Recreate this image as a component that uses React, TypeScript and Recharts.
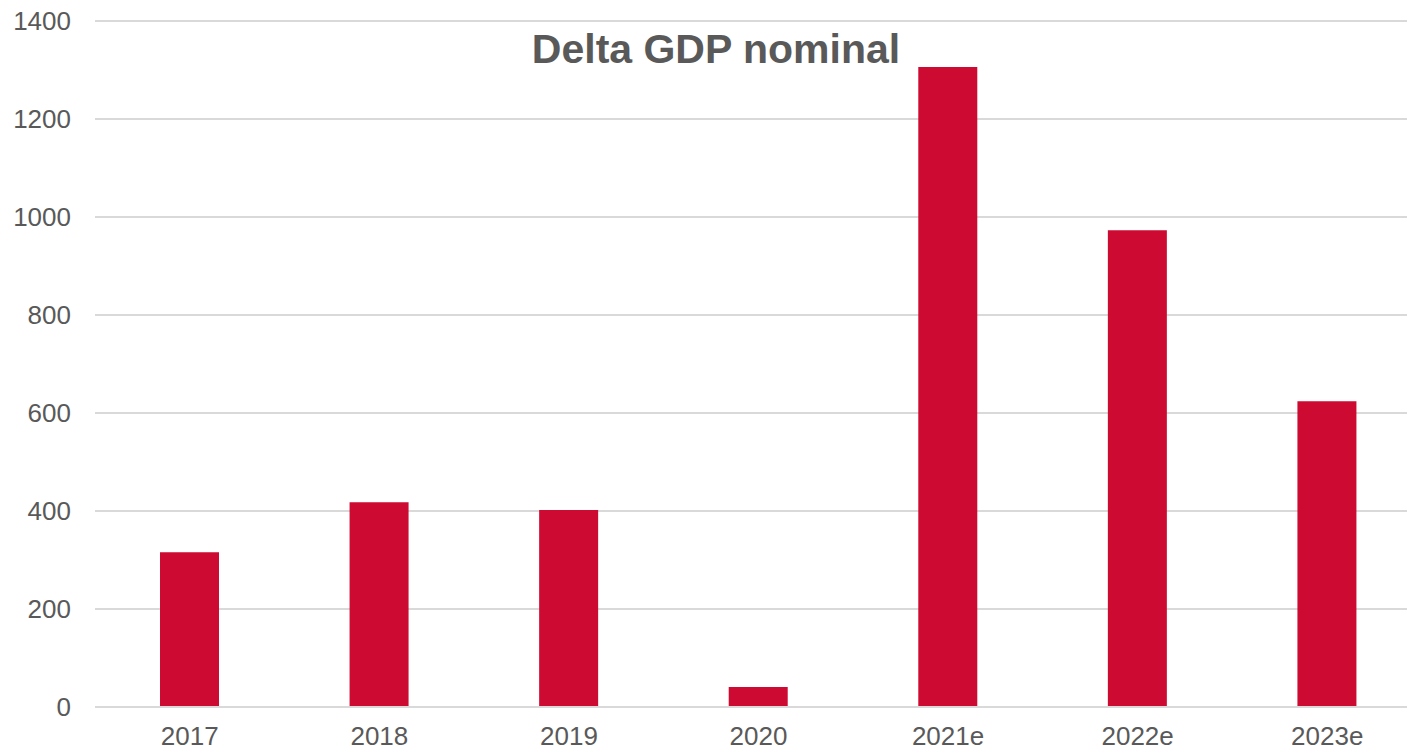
import React from "react";
import { BarChart, Bar, XAxis, YAxis, CartesianGrid } from "recharts";

const categories = ["2017", "2018", "2019", "2020", "2021e", "2022e", "2023e"];
const deltaGdp = [316, 418, 402, 41, 1306, 973, 624];
const yTicks = [0, 200, 400, 600, 800, 1000, 1200, 1400];

const data = categories.map((c, i) => ({ year: c, value: deltaGdp[i] }));

const FONT = '"Liberation Sans", Arial, sans-serif';
const GRAY = "#595959";

export default function App() {
  return (
    <div
      style={{
        position: "absolute",
        left: 0,
        top: 0,
        width: 1407,
        height: 751,
        overflow: "hidden",
        background: "#ffffff",
        fontFamily: FONT,
      }}
    >
      <BarChart
        width={1422}
        height={751}
        data={data}
        margin={{ top: 21, right: 0, bottom: 0, left: 0 }}
        barSize={59}
      >
        <CartesianGrid vertical={false} stroke="#d9d9d9" strokeWidth={1.8} />
        <XAxis
          dataKey="year"
          height={44}
          tickLine={false}
          tickSize={0}
          tickMargin={20}
          axisLine={{ stroke: "#d9d9d9", strokeWidth: 2 }}
          tick={{ fill: GRAY, fontSize: 26, fontFamily: FONT }}
          interval={0}
        />
        <YAxis
          width={95}
          domain={[0, 1400]}
          ticks={yTicks}
          tickLine={false}
          tickSize={0}
          tickMargin={24}
          axisLine={false}
          tick={{ fill: GRAY, fontSize: 26, fontFamily: FONT }}
          interval={0}
        />
        <Bar dataKey="value" fill="#CD0A31" isAnimationActive={false} />
      </BarChart>
      <div
        style={{
          position: "absolute",
          left: 416,
          width: 600,
          top: 29,
          textAlign: "center",
          fontSize: 41,
          lineHeight: "41px",
          fontWeight: "bold",
          color: GRAY,
          fontFamily: FONT,
        }}
      >
        Delta GDP nominal
      </div>
    </div>
  );
}
